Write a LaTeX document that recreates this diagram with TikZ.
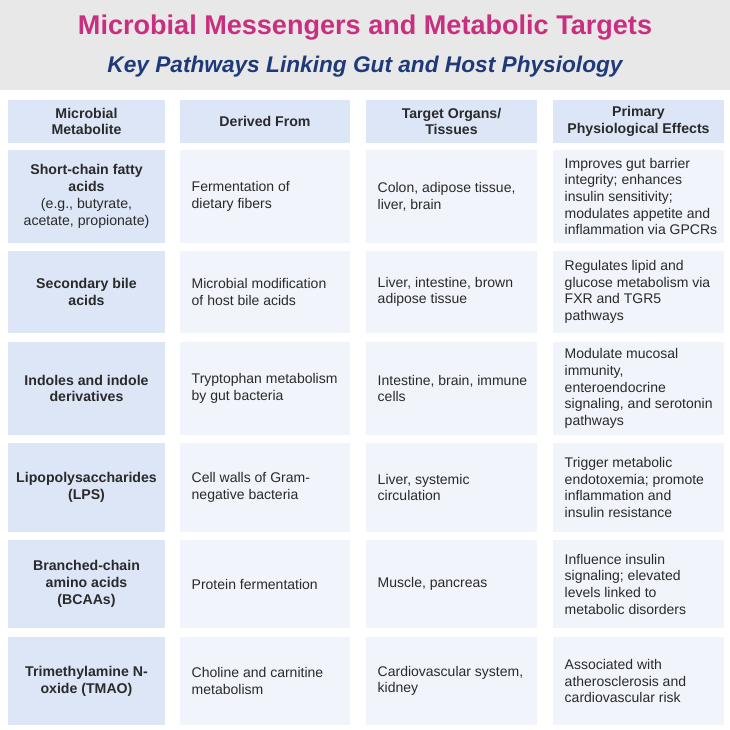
\documentclass[tikz,border=0pt]{standalone}
\usepackage{fontspec}
\setmainfont{Liberation Sans}
\definecolor{ttl}{HTML}{C8307F}
\definecolor{sub}{HTML}{1F3A7A}
\definecolor{hdr}{HTML}{DCE6F7}
\definecolor{cel}{HTML}{F1F4FA}
\definecolor{txt}{HTML}{2A2A2A}
\begin{document}
\begin{tikzpicture}[x=0.75pt,y=-0.75pt,
 hd/.style={font=\fontsize{10.6}{12.6}\selectfont\bfseries,text=txt,align=center},
 ft/.style={font=\fontsize{10.6}{12.6}\selectfont\bfseries,text=txt,align=center},
 bt/.style={font=\fontsize{10.5}{12.5}\selectfont,text=txt,align=left,anchor=west}]
\useasboundingbox (0,0) rectangle (730,730);
\fill[white] (0,0) rectangle (730,730);
\fill[gray!18] (0,0) rectangle (730,90);
\node[font=\fontsize{20.3}{23}\selectfont\bfseries,text=ttl] (t) at (365,28) {Microbial Messengers and Metabolic Targets};
\node[font=\fontsize{17}{20}\selectfont\bfseries\itshape,text=sub] (s) at (365,67) {Key Pathways Linking Gut and Host Physiology};
\def\cA{8}\def\cB{165}\def\dA{180}\def\dB{350}\def\eA{366}\def\eB{537}\def\fA{553}\def\fB{724}
\foreach \a/\b/\t in {\cA/\cB/{Microbial\\Metabolite},\dA/\dB/{Derived From},\eA/\eB/{Target Organs/\\Tissues},\fA/\fB/{Primary\\Physiological Effects}}{
 \fill[hdr] (\a,100) rectangle (\b,143);
 \node[hd] at ({(\a+\b)/2},121.5) {\t};}
\newcommand\mrow[6]{%
 \fill[hdr] (\cA,#1) rectangle (\cB,#2);
 \node[ft] at ({(\cA+\cB)/2},{(#1+#2)/2}) {#3};
 \fill[cel] (\dA,#1) rectangle (\dB,#2);
 \node[bt] at (\dA+7,{(#1+#2)/2}) {#4};
 \fill[cel] (\eA,#1) rectangle (\eB,#2);
 \node[bt] at (\eA+7,{(#1+#2)/2}) {#5};
 \fill[cel] (\fA,#1) rectangle (\fB,#2);
 \node[bt] at (\fA+7,{(#1+#2)/2}) {#6};}
\mrow{150}{243}{Short-chain fatty\\acids\\{\normalfont(e.g., butyrate,}\\{\normalfont acetate, propionate)}}{Fermentation of\\dietary fibers}{Colon, adipose tissue,\\liver, brain}{Improves gut barrier\\integrity; enhances\\insulin sensitivity;\\modulates appetite and\\inflammation via GPCRs}
\mrow{251}{333}{Secondary bile\\acids}{Microbial modification\\of host bile acids}{Liver, intestine, brown\\adipose tissue}{Regulates lipid and\\glucose metabolism via\\FXR and TGR5\\pathways}
\mrow{342}{435}{Indoles and indole\\derivatives}{Tryptophan metabolism\\by gut bacteria}{Intestine, brain, immune\\cells}{Modulate mucosal\\immunity,\\enteroendocrine\\signaling, and serotonin\\pathways}
\mrow{443}{532}{Lipopolysaccharides\\(LPS)}{Cell walls of Gram-\\negative bacteria}{Liver, systemic\\circulation}{Trigger metabolic\\endotoxemia; promote\\inflammation and\\insulin resistance}
\mrow{540}{628}{Branched-chain\\amino acids\\(BCAAs)}{Protein fermentation}{Muscle, pancreas}{Influence insulin\\signaling; elevated\\levels linked to\\metabolic disorders}
\mrow{637}{725}{Trimethylamine N-\\oxide (TMAO)}{Choline and carnitine\\metabolism}{Cardiovascular system,\\kidney}{Associated with\\atherosclerosis and\\cardiovascular risk}
\end{tikzpicture}
\end{document}
